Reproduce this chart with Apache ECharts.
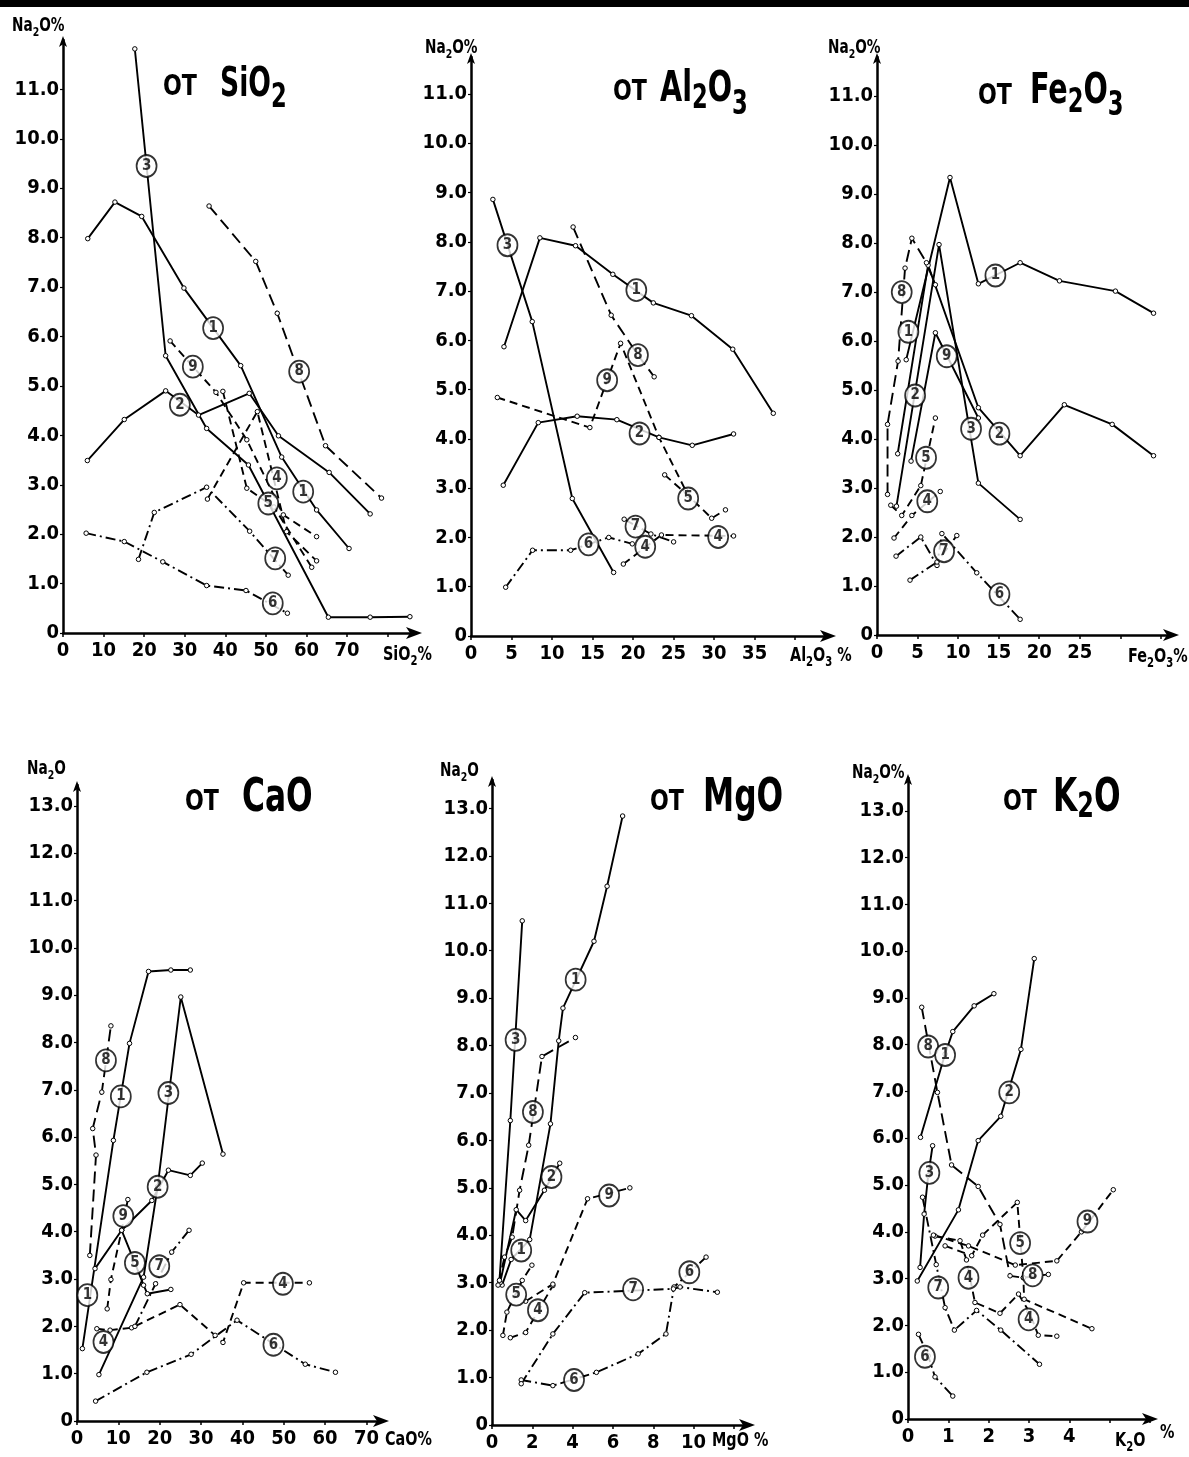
<!DOCTYPE html>
<html><head><meta charset="utf-8">
<script src="https://cdn.jsdelivr.net/npm/echarts@6/dist/echarts.min.js"></script>
<style>html,body{margin:0;padding:0;background:#fff}#c{width:1189px;height:1457px}</style>
</head><body><div id="c"></div><script>
const FONT = "'Liberation Sans Narrow','DejaVu Sans Condensed','Arial Narrow',sans-serif";

// ---------- DATA (x = oxide %, y = Na2O %) ----------
const SIO2_LINES = [
 ['1', [[6.1,7.98],[12.8,8.72],[19.4,8.43],[29.8,6.98],[43.8,5.41],[53.9,3.56],[62.5,2.49],[70.5,1.71]]],
 ['2', [[6.0,3.49],[15.1,4.32],[25.3,4.90],[33.4,4.41],[45.9,4.85],[53.1,3.99],[65.6,3.25],[75.7,2.41]]],
 ['3', [[17.7,11.82],[25.3,5.61],[35.4,4.14],[45.7,3.40],[65.4,0.32],[75.7,0.32],[85.5,0.33]]],
 ['4', [[35.6,2.71],[47.9,4.48],[55.1,2.05],[62.5,1.46]]],
 ['5', [[39.4,4.89],[45.3,2.93],[52.0,2.55],[61.3,1.33]]],
 ['6', [[5.7,2.02],[15.1,1.85],[24.6,1.44],[35.4,0.96],[45.1,0.86],[55.3,0.40]]],
 ['7', [[18.6,1.49],[22.5,2.44],[35.4,2.95],[46.0,2.06],[55.5,1.17]]],
 ['8', [[36.0,8.64],[47.5,7.52],[52.8,6.47],[64.7,3.79],[78.5,2.73]]],
 ['9', [[26.4,5.91],[37.7,4.87],[45.3,3.91],[54.3,2.39],[62.5,1.95]]]
];
const SIO2_LABELS = [[20.6,9.45,'3'],[37.0,6.17,'1'],[32.0,5.39,'9'],[28.8,4.62,'2'],[58.2,5.29,'8'],[52.7,3.13,'4'],[59.2,2.86,'1'],[50.6,2.62,'5'],[52.3,1.51,'7'],[51.7,0.60,'6']];

const AL2O3_LINES = [
 ['1', [[4.07,5.87],[8.5,8.08],[12.9,7.92],[17.5,7.34],[22.5,6.76],[27.2,6.50],[32.3,5.82],[37.3,4.52]]],
 ['2', [[3.98,3.06],[8.3,4.33],[13.1,4.46],[18.0,4.39],[23.2,4.03],[27.3,3.87],[32.4,4.10]]],
 ['3', [[2.7,8.86],[7.56,6.38],[12.5,2.79],[17.6,1.29]]],
 ['4', [[18.8,1.46],[21.5,1.80],[23.5,2.05],[32.4,2.03]]],
 ['5', [[23.9,3.27],[26.8,2.85],[29.7,2.39],[31.4,2.56]]],
 ['6', [[4.28,0.99],[7.6,1.74],[12.3,1.74],[17.0,2.0],[19.9,1.87]]],
 ['7', [[18.9,2.37],[22.2,2.07],[25.0,1.91]]],
 ['8', [[12.6,8.30],[17.3,6.51],[20.6,5.70],[22.6,5.26]]],
 ['9', [[3.25,4.84],[14.67,4.23],[18.46,5.94],[23.2,4.03],[26.5,2.95]]]
];
const AL2O3_LABELS = [[4.5,7.93,'3'],[20.4,7.02,'1'],[20.6,5.70,'8'],[16.8,5.19,'9'],[20.8,4.11,'2'],[26.8,2.79,'5'],[20.3,2.22,'7'],[21.5,1.81,'4'],[30.5,2.01,'4'],[14.5,1.86,'6']];

const FE2O3_LINES = [
 ['1', [[3.6,5.62],[9.0,9.34],[12.5,7.17],[17.65,7.60],[22.5,7.23],[29.4,7.02],[34.1,6.57]]],
 ['2', [[2.55,3.70],[6.3,7.55],[12.5,4.64],[17.65,3.66],[23.1,4.70],[29.0,4.30],[34.1,3.66]]],
 ['3', [[2.4,2.63],[7.65,7.97],[12.5,3.10],[17.65,2.36]]],
 ['4', [[2.1,1.98],[4.3,2.44],[7.8,2.93]]],
 ['5', [[1.7,2.65],[3.05,2.44],[5.4,3.05],[7.2,4.43]]],
 ['6', [[2.35,1.61],[5.4,2.0],[7.4,1.42],[8.0,2.07],[12.3,1.27],[17.65,0.32]]],
 ['7', [[4.07,1.12],[7.4,1.49],[9.84,2.03]]],
 ['8', [[1.3,2.87],[1.3,4.3],[2.6,5.59],[3.46,7.49],[4.3,8.1],[6.1,7.6],[7.2,7.15]]],
 ['9', [[4.2,3.55],[7.2,6.17],[12.5,4.43]]]
];
const FE2O3_LABELS = [[14.6,7.34,'1'],[3.05,7.0,'8'],[3.87,6.19,'1'],[8.6,5.69,'9'],[4.7,4.89,'2'],[11.6,4.21,'3'],[15.1,4.11,'2'],[6.05,3.62,'5'],[6.2,2.73,'4'],[8.27,1.71,'7'],[15.1,0.83,'6']];

const CAO_LINES = [
 ['1', [[1.3,1.53],[8.8,5.93],[12.7,7.98],[17.3,9.5],[22.7,9.53],[27.4,9.53]]],
 ['2', [[4.36,3.22],[10.8,4.03],[18.1,4.66],[22.1,5.30],[27.4,5.19],[30.3,5.45]]],
 ['3', [[5.3,0.98],[16.1,3.04],[19.5,4.95],[25.1,8.96],[35.3,5.64]]],
 ['4', [[4.8,1.95],[8.0,1.92],[13.2,1.97],[24.9,2.46],[33.4,1.81],[35.3,1.66],[40.3,2.92],[56.2,2.92]]],
 ['5', [[10.8,4.03],[14.0,3.34],[16.1,2.87],[17.0,2.69],[22.7,2.78]]],
 ['6', [[4.5,0.42],[16.9,1.03],[27.6,1.41],[38.7,2.13],[55.2,1.20],[62.5,1.03]]],
 ['7', [[14.0,2.0],[19.0,2.9],[22.9,3.57],[27.1,4.03]]],
 ['8', [[3.1,3.50],[4.6,5.62],[3.8,6.18],[6.0,6.95],[8.2,8.35]]],
 ['9', [[7.3,2.37],[8.2,2.99],[10.8,4.03],[12.3,4.68]]]
];
const CAO_LABELS = [[7.0,7.62,'8'],[10.6,6.86,'1'],[22.1,6.93,'3'],[19.5,4.95,'2'],[11.2,4.33,'9'],[14.0,3.34,'5'],[19.9,3.27,'7'],[2.5,2.66,'1'],[6.4,1.67,'4'],[49.8,2.9,'4'],[47.5,1.61,'6']];

const MGO_LINES = [
 ['1', [[0.5,2.95],[0.95,3.49],[1.87,3.91],[2.9,6.35],[3.31,8.1],[3.52,8.79],[5.06,10.2],[5.71,11.36],[6.48,12.84]]],
 ['2', [[0.4,3.0],[1.2,4.54],[1.67,4.31],[2.6,4.95],[3.36,5.52]]],
 ['3', [[0.37,3.05],[0.91,6.42],[1.50,10.63]]],
 ['4', [[0.91,1.84],[1.67,1.95],[3.02,2.94]]],
 ['5', [[0.54,1.89],[0.74,2.38],[1.5,3.05],[1.98,3.37]]],
 ['6', [[1.45,0.95],[3.02,0.83],[5.18,1.11],[7.25,1.50],[8.63,1.92],[9.03,2.91],[10.62,3.54]]],
 ['7', [[1.45,0.87],[3.02,1.92],[4.6,2.79],[9.0,2.87],[9.33,2.91],[11.18,2.80]]],
 ['8', [[0.3,2.95],[0.62,3.54],[1.0,3.96],[1.37,4.95],[1.82,5.9],[2.48,7.77],[4.14,8.17]]],
 ['9', [[1.67,2.61],[3.02,2.97],[4.74,4.77],[6.84,5.0]]]
];
const MGO_LABELS = [[1.17,8.12,'3'],[4.15,9.39,'1'],[2.03,6.6,'8'],[2.95,5.23,'2'],[5.81,4.84,'9'],[1.45,3.68,'1'],[1.2,2.75,'5'],[2.28,2.42,'4'],[7.0,2.86,'7'],[9.79,3.22,'6'],[4.07,0.95,'6']];

const K2O_LINES = [
 ['1', [[0.31,6.02],[0.92,7.8],[1.11,8.28],[1.64,8.83],[2.13,9.09]]],
 ['2', [[0.23,2.95],[1.25,4.47],[1.74,5.95],[2.3,6.47],[2.80,7.9],[3.13,9.84]]],
 ['3', [[0.30,3.24],[0.40,4.38],[0.50,5.2],[0.61,5.84]]],
 ['4', [[0.67,3.91],[1.29,3.81],[1.45,3.4],[1.66,2.49],[2.28,2.26],[2.74,2.67],[3.0,2.3],[3.23,1.79],[3.69,1.77]]],
 ['5', [[0.92,3.7],[1.58,3.49],[1.85,3.93],[2.71,4.63],[2.86,3.02],[2.88,2.56],[4.56,1.93]]],
 ['6', [[0.26,1.81],[0.5,1.35],[0.67,0.90],[1.11,0.49]]],
 ['7', [[0.36,4.74],[0.70,3.3],[0.92,2.38],[1.15,1.90],[1.70,2.32],[2.30,1.90],[3.26,1.17]]],
 ['8', [[0.34,8.80],[0.73,6.98],[1.08,5.43],[1.74,4.97],[2.28,4.16],[2.53,3.06],[2.86,3.02],[3.48,3.09]]],
 ['9', [[0.63,3.93],[1.5,3.7],[2.66,3.29],[3.69,3.38],[4.3,4.0],[5.09,4.90]]]
];
const K2O_LABELS = [[0.50,7.96,'8'],[0.92,7.78,'1'],[2.51,6.98,'2'],[0.53,5.26,'3'],[2.78,3.76,'5'],[4.45,4.22,'9'],[3.09,3.07,'8'],[1.5,3.02,'4'],[0.75,2.81,'7'],[2.99,2.13,'4'],[0.42,1.33,'6']];

// ---------- LAYOUT / STYLE ----------
const DASH = { s:'solid', d:[8,5], L:[12,6], dd:[10,4,2,4] };
const BASE_STYLE = {'1':'s','2':'s','3':'s','4':'d','5':'d','6':'dd','7':'dd','8':'L','9':'d'};
const PANELS = [
 {lines:SIO2_LINES, labels:SIO2_LABELS, grid:{left:63,top:40,width:353,height:593}, xmax:87, xint:10, xlast:70, ymax:12, ylast:11, sty:{}},
 {lines:AL2O3_LINES, labels:AL2O3_LABELS, grid:{left:471,top:57,width:359,height:579}, xmax:44.3, xint:5, xlast:35, ymax:11.75, ylast:11, sty:{}},
 {lines:FE2O3_LINES, labels:FE2O3_LABELS, grid:{left:877,top:57,width:296,height:578}, xmax:36.5, xint:5, xlast:25, ymax:11.8, ylast:11, sty:{'9':'s'}},
 {lines:CAO_LINES, labels:CAO_LABELS, grid:{left:77,top:785,width:306,height:636}, xmax:74, xint:10, xlast:70, ymax:13.44, ylast:13, sty:{'5':'s'}},
 {lines:MGO_LINES, labels:MGO_LABELS, grid:{left:492,top:780,width:257,height:645}, xmax:12.75, xint:2, xlast:10, ymax:13.6, ylast:13, sty:{}},
 {lines:K2O_LINES, labels:K2O_LABELS, grid:{left:908,top:778,width:244,height:641}, xmax:6.05, xint:1, xlast:4, ymax:13.7, ylast:13, sty:{}}
];

// text layout helper (titles with subscripts), k = horizontal compression
const ctx = document.createElement('canvas').getContext('2d');
function rt(x, base, parts, k){
  k = k||1;
  const els=[]; let cx=x;
  parts.forEach(([t,s,dy])=>{
    dy = dy||0;
    ctx.font = `bold ${s}px ${FONT}`;
    const w = ctx.measureText(t).width;
    els.push({type:'text', x:cx, y:base+dy-0.35*s, scaleX:k, z:10,
      style:{text:t, fontSize:s, fontFamily:FONT, fontWeight:'bold', fill:'#000', align:'left', verticalAlign:'middle'}});
    cx += w*k;
  });
  return els;
}
const TK = 0.74, AK = 0.8;
const T = [
 // titles
 ...rt(163,98,[['ОТ',29]],0.85), ...rt(220,100,[['SiO',40],['2',34,10]],TK),
 ...rt(613,103,[['ОТ',29]],0.85), ...rt(660,105,[['Al',43],['2',34,6],['O',43],['3',34,12]],TK),
 ...rt(978,107,[['ОТ',29]],0.85), ...rt(1030,107,[['Fe',43],['2',34,8],['O',43],['3',34,11]],TK),
 ...rt(185,813,[['ОТ',29]],0.85), ...rt(242,815,[['CaO',47]],TK),
 ...rt(650,813,[['ОТ',29]],0.85), ...rt(703,815,[['MgO',47]],TK),
 ...rt(1003,813,[['ОТ',29]],0.85), ...rt(1053,815,[['K',47],['2',36,5],['O',47]],TK),
 // y-axis titles
 ...rt(12,33,[['Na',19],['2',13,4],['O%',19]],AK),
 ...rt(425,55,[['Na',19],['2',13,4],['O%',19]],AK),
 ...rt(828,55,[['Na',19],['2',13,4],['O%',19]],AK),
 ...rt(27,776,[['Na',19],['2',13,4],['O',19]],AK),
 ...rt(440,778,[['Na',19],['2',13,4],['O',19]],AK),
 ...rt(852,780,[['Na',19],['2',13,4],['O%',19]],AK),
 // x-axis titles
 ...rt(383,662,[['SiO',20],['2',14,4],['%',20]],AK),
 ...rt(790,663,[['Al',20],['2',14,4],['O',20],['3',14,4],[' %',20]],AK),
 ...rt(1128,664,[['Fe',20],['2',14,4],['O',20],['3',14,4],['%',20]],AK),
 ...rt(385,1447,[['CaO%',20]],AK),
 ...rt(712,1448,[['MgO %',20]],AK),
 ...rt(1115,1448,[['K',20],['2',14,4],['O',20]],AK),
 ...rt(1160,1440,[['%',20]],AK)
];

const grids=[], xAxes=[], yAxes=[], series=[];
PANELS.forEach((p,i)=>{
  grids.push(Object.assign({containLabel:false}, p.grid));
  xAxes.push({type:'value', gridIndex:i, min:0, max:p.xmax, interval:p.xint,
    axisLine:{show:true, onZero:false, lineStyle:{color:'#000',width:2.5}, symbol:['none','arrow'], symbolSize:[9,16], symbolOffset:[0,6]},
    axisTick:{show:true, length:4, lineStyle:{color:'#000',width:1.5}},
    splitLine:{show:false},
    axisLabel:{showMaxLabel:false, color:'#000', fontFamily:FONT, fontWeight:'bold', fontSize:20, margin:8,
      formatter:v=> (v>p.xlast+1e-9 || Math.abs(v/p.xint-Math.round(v/p.xint))>1e-6) ? '' : String(v)}});
  yAxes.push({type:'value', gridIndex:i, min:0, max:p.ymax, interval:1,
    axisLine:{show:true, onZero:false, lineStyle:{color:'#000',width:2.5}, symbol:['none','arrow'], symbolSize:[6,11], symbolOffset:[0,4]},
    axisTick:{show:true, length:3, lineStyle:{color:'#000',width:1.2}},
    splitLine:{show:false},
    axisLabel:{showMaxLabel:false, color:'#000', fontFamily:FONT, fontWeight:'bold', fontSize:20, margin:4,
      formatter:v=> (v>p.ylast+1e-9 || Math.abs(v-Math.round(v))>1e-6) ? '' : (v===0?'0':v.toFixed(1))}});
  p.lines.forEach(([id,pts])=>{
    const st = p.sty[id] || BASE_STYLE[id];
    series.push({type:'line', name:'S'+(i+1)+'-'+id, xAxisIndex:i, yAxisIndex:i, data:pts,
      symbol:'circle', symbolSize:4.5, showAllSymbol:true, clip:false, silent:true, z:2,
      lineStyle:{color:'#000', width:1.9, type:DASH[st]},
      itemStyle:{color:'#fff', borderColor:'#000', borderWidth:1}});
  });
  series.push({type:'scatter', name:'L'+(i+1), xAxisIndex:i, yAxisIndex:i,
    data:p.labels.map(l=>({value:[l[0],l[1]], name:l[2]})),
    symbol:'circle', symbolSize:[20,22], z:5, silent:true, clip:false,
    itemStyle:{color:'#fff', borderColor:'#000', borderWidth:1.8},
    label:{show:true, position:'inside', formatter:'{b}', color:'#000', fontSize:15, fontWeight:'bold', fontFamily:FONT}});
});

const chart = echarts.init(document.getElementById('c'), null, {width:1189, height:1457});
chart.setOption({
  animation:false, backgroundColor:'#fff',
  grid:grids, xAxis:xAxes, yAxis:yAxes, series:series,
  graphic:[{type:'rect', shape:{x:0,y:0,width:1189,height:7}, style:{fill:'#000'}, z:10}, ...T]
});
</script></body></html>
